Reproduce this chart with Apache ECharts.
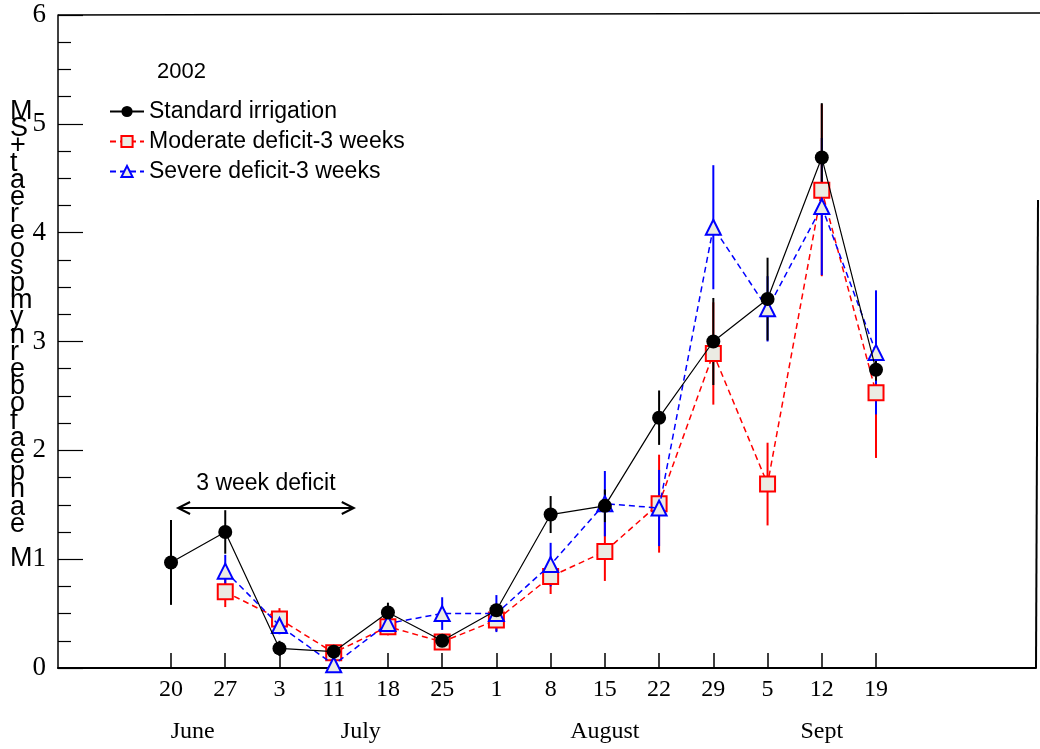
<!DOCTYPE html>
<html>
<head>
<meta charset="utf-8">
<script src="https://cdn.jsdelivr.net/npm/echarts@6/dist/echarts.min.js"></script>
<style>html,body{margin:0;padding:0;background:#fff}#c{width:1040px;height:749px}</style>
</head>
<body>
<div id="c"></div>
<script>
// ---- data ----
const dayLabels = ['20','27','3','11','18','25','1','8','15','22','29','5','12','19'];
const monthLabels = ['June','July','August','Sept'];
const monthAt = [0.4, 3.5, 8, 12];           // category index under which each month name sits
const standard    = [0.97, 1.25, 0.18, 0.15, 0.51, 0.25, 0.53, 1.41, 1.49, 2.30, 3.00, 3.39, 4.69, 2.74];
const standardErr = [0.39, 0.20, 0.07, 0.03, 0.09, 0.05, 0.06, 0.17, 0.15, 0.25, 0.40, 0.38, 0.50, 0.10];
const moderate    = [null, 0.70, 0.45, 0.14, 0.38, 0.24, 0.44, 0.84, 1.07, 1.51, 2.89, 1.69, 4.39, 2.53];
const moderateErr = [null, 0.14, 0.10, 0.04, 0.08, 0.07, 0.10, 0.16, 0.27, 0.45, 0.47, 0.38, 0.79, 0.60];
const severe      = [null, 0.89, 0.39, 0.03, 0.41, 0.50, 0.50, 0.95, 1.51, 1.47, 4.05, 3.30, 4.24, 2.90];
const severeErr   = [null, 0.15, 0.08, 0.03, 0.08, 0.15, 0.17, 0.20, 0.30, 0.35, 0.57, 0.30, 0.63, 0.57];
const seriesNames = ['Standard irrigation', 'Moderate deficit-3 weeks', 'Severe deficit-3 weeks'];
const deficit = { from: 0.13, to: 3.37, level: 1.47, label: '3 week deficit' };
const yLabelChars = ['M','S','+','t','a','e','r','e','o','s','p','m','y','n','r','e','b','o','f','a','e','p','n','a','e','','M'];

// ---- chart ----
const idx = dayLabels.map((_, i) => i);
const XMIN = -2.084, XMAX = 15.95;
const serif = 'Liberation Serif';
const sans = 'Liberation Sans';

function pts(vals) { return vals.map((v, i) => v == null ? [i, null] : [i, v]); }
function errData(vals, errs) {
  const out = [];
  vals.forEach((v, i) => { if (v != null) out.push([i, v, errs[i]]); });
  return out;
}
function errSeries(vals, errs, color, z) {
  return {
    type: 'custom', silent: true, z: z,
    data: errData(vals, errs),
    renderItem: function (params, api) {
      const x = api.value(0), y = api.value(1), e = api.value(2);
      const a = api.coord([x, y + e]), b = api.coord([x, y - e]);
      return { type: 'line', shape: { x1: a[0], y1: a[1], x2: b[0], y2: b[1] },
               style: { stroke: color, lineWidth: 2 } };
    }
  };
}

const chart = echarts.init(document.getElementById('c'), null, { renderer: 'canvas' });
chart.setOption({
  backgroundColor: '#fff',
  animation: false,
  title: { text: '2002', left: 152, top: 56,
           textStyle: { fontFamily: sans, fontSize: 22, fontWeight: 'normal', color: '#000' } },
  legend: {
    data: seriesNames, orient: 'vertical', left: 104, top: 95,
    itemWidth: 34, itemHeight: 14, itemGap: 7,
    textStyle: { fontFamily: sans, fontSize: 23, color: '#000' }
  },
  grid: { left: 58, right: 1040 - 1036, top: 15, bottom: 749 - 668 },
  xAxis: [{
    type: 'value', min: XMIN, max: XMAX,
    axisLine: { show: true, onZero: false, lineStyle: { color: '#000', width: 2 } },
    axisTick: { show: true, inside: true, length: 15, customValues: idx, lineStyle: { color: '#000', width: 1.5 } },
    axisLabel: { customValues: idx, formatter: v => dayLabels[Math.round(v)], margin: 10,
                 fontFamily: serif, fontSize: 24, color: '#000' },
    splitLine: { show: false }
  }, {
    type: 'value', min: XMIN, max: XMAX, position: 'bottom',
    axisLine: { show: false, onZero: false }, axisTick: { show: false },
    axisLabel: { customValues: monthAt,
                 formatter: v => monthLabels[monthAt.findIndex(m => Math.abs(m - v) < 1e-6)],
                 margin: 52, fontFamily: serif, fontSize: 24, color: '#000' },
    splitLine: { show: false }
  }],
  yAxis: {
    type: 'value', min: 0, max: 6, interval: 1,
    axisLine: { show: true, onZero: false, lineStyle: { color: '#000', width: 1.5 } },
    axisTick: { show: true, inside: true, length: 25, lineStyle: { color: '#000', width: 1.2 } },
    minorTick: { show: true, splitNumber: 4, length: 13, lineStyle: { color: '#000', width: 1.2 } },
    axisLabel: { margin: 12, fontFamily: serif, fontSize: 27, color: '#000' },
    splitLine: { show: false }, minorSplitLine: { show: false }
  },
  graphic: [
    { type: 'line', shape: { x1: 58, y1: 15, x2: 1040, y2: 13 }, style: { stroke: '#000', lineWidth: 1.5 } },
    { type: 'line', shape: { x1: 1036, y1: 668, x2: 1038, y2: 200 }, style: { stroke: '#000', lineWidth: 2 } },
    { type: 'text', left: 10, top: 98,
      style: { text: yLabelChars.join('\n'), font: '27px "Liberation Sans"', lineHeight: 17.2, fill: '#000', align: 'center' } }
  ],
  series: [
    errSeries(moderate, moderateErr, '#ff0000', 2),
    errSeries(severe, severeErr, '#0000ff', 2),
    errSeries(standard, standardErr, '#000000', 2),
    {
      name: seriesNames[1], type: 'line', data: pts(moderate), z: 4,
      symbol: 'rect', symbolSize: 15, connectNulls: false,
      lineStyle: { color: '#ff0000', width: 1.5, type: [6, 4] },
      itemStyle: { color: '#ebebe3', borderColor: '#ff0000', borderWidth: 2 }
    },
    {
      name: seriesNames[2], type: 'line', data: pts(severe), z: 5,
      symbol: 'triangle', symbolSize: 15,
      lineStyle: { color: '#0000ff', width: 1.5, type: [6, 4] },
      itemStyle: { color: '#ebebe3', borderColor: '#0000ff', borderWidth: 2 }
    },
    {
      name: seriesNames[0], type: 'line', data: pts(standard), z: 6,
      symbol: 'circle', symbolSize: 14,
      lineStyle: { color: '#000', width: 1.2 },
      itemStyle: { color: '#000', borderColor: '#000', borderWidth: 0 }
    },
    {
      type: 'custom', silent: true, z: 7,
      data: [[deficit.from, deficit.level, deficit.to]],
      renderItem: function (params, api) {
        const a = api.coord([api.value(0), api.value(1)]);
        const b = api.coord([api.value(2), api.value(1)]);
        const h = 6, w = 12;
        const mid = (a[0] + b[0]) / 2;
        return { type: 'group', children: [
          { type: 'line', shape: { x1: a[0], y1: a[1], x2: b[0], y2: b[1] }, style: { stroke: '#000', lineWidth: 2 } },
          { type: 'polyline', shape: { points: [[a[0] + w, a[1] - h], [a[0], a[1]], [a[0] + w, a[1] + h]] },
            style: { stroke: '#000', lineWidth: 2, fill: null } },
          { type: 'polyline', shape: { points: [[b[0] - w, b[1] - h], [b[0], b[1]], [b[0] - w, b[1] + h]] },
            style: { stroke: '#000', lineWidth: 2, fill: null } },
          { type: 'text', style: { x: mid, y: a[1] - 13, text: deficit.label, align: 'center', verticalAlign: 'bottom',
            font: '23px "Liberation Sans"', fill: '#000' } }
        ] };
      }
    }
  ]
});
</script>
</body>
</html>
